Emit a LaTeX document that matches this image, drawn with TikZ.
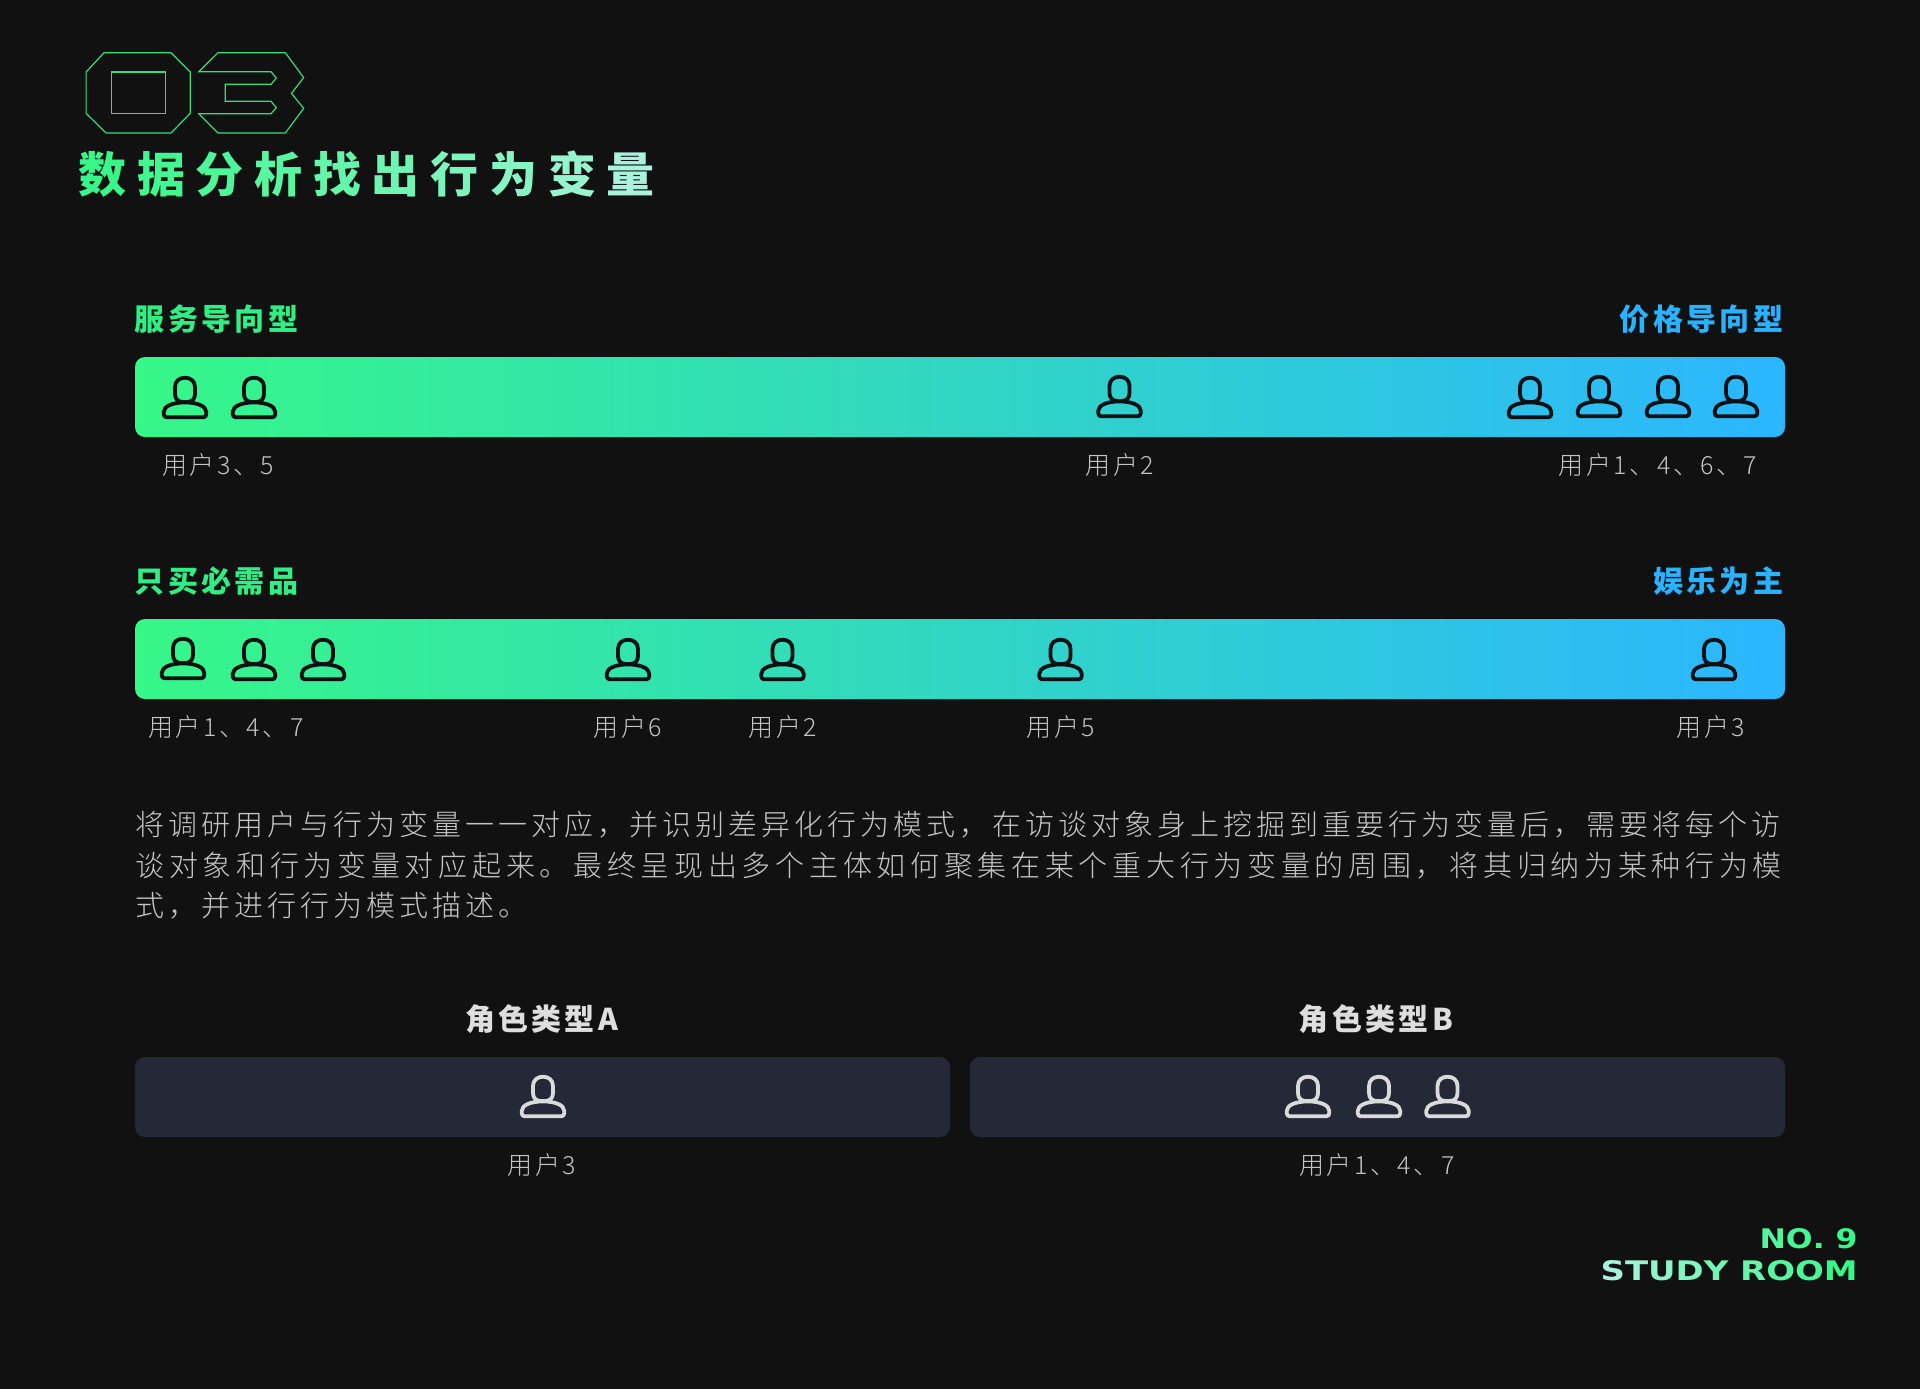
\documentclass[tikz,border=0pt]{standalone}
\usepackage{fontspec}
\usepackage{graphicx}
\usetikzlibrary{calc}
\newfontfamily\ftitle{Noto Sans CJK SC Black}
\newfontfamily\fhead[LetterSpace=11]{Noto Sans CJK SC Black}
\newfontfamily\fbodyA[LetterSpace=13.7]{Noto Sans CJK SC Light}
\newfontfamily\fbodyB[LetterSpace=16.2]{Noto Sans CJK SC Light}
\newfontfamily\fsmall[LetterSpace=10]{Noto Sans CJK SC Light}
\newfontfamily\fbrand{DejaVu Sans Bold}
\definecolor{bgc}{HTML}{111111}
\definecolor{gL}{HTML}{36F788}
\definecolor{gR}{HTML}{2BB6FF}
\definecolor{tgB}{HTML}{A9F3DC}
\definecolor{boxc}{HTML}{252836}
\definecolor{icDark}{HTML}{0E1114}
\definecolor{icLite}{HTML}{DADADA}
\definecolor{smallc}{HTML}{C4C4C4}
\definecolor{bodyc}{HTML}{C4C4C4}
\definecolor{headc}{HTML}{DEDEDE}
\definecolor{headg}{HTML}{2FEE84}
\definecolor{headb}{HTML}{29B3FF}
\definecolor{outc}{HTML}{2FDF7C}
\newcommand{\tc}[2]{\textcolor{gL!#1!tgB}{#2}\kern5.35pt}
\tikzset{
  barbox/.style={inner sep=0pt,minimum width=825pt,minimum height=40pt,rounded corners=5pt,left color=gL,right color=gR},
  rolebox/.style={inner sep=0pt,minimum width=407.5pt,minimum height=40pt,rounded corners=5pt,fill=boxc},
  headtxt/.style={inner sep=0pt,font=\fontsize{15}{15}\selectfont\fhead},
  smalltxt/.style={inner sep=0pt,anchor=base,text=smallc,font=\fontsize{12.5}{12.5}\selectfont\fsmall},
  bodytxt/.style={inner sep=0pt,anchor=base west,text=bodyc},
  iconline/.style={line width=1.9pt,line join=round},
  outline03/.style={draw=outc,line width=0.6pt,line join=miter},
  usericon/.pic={
    \draw[iconline,pic actions] (-10,11) .. controls (-10,5) and (-5.5,1.7) .. (0,1.7) .. controls (5.5,1.7) and (10,5) .. (10,11) -- (10,18) .. controls (10,23) and (7,26) .. (2,26) -- (-2,26) .. controls (-7,26) and (-10,23) .. (-10,18) -- cycle;
    \draw[iconline,pic actions] (-21.3,36) .. controls (-21.3,30) and (-12,26.4) .. (0,26.4) .. controls (12,26.4) and (21.3,30) .. (21.3,36) -- (21.3,38) .. controls (21.3,40) and (20,41.3) .. (18.3,41.3) -- (-18.3,41.3) .. controls (-20,41.3) and (-21.3,40) .. (-21.3,38) -- cycle;
  }
}
\begin{document}
\begin{tikzpicture}[x=0.5pt,y=-0.5pt]
\useasboundingbox (0,0) rectangle (1920,1388);
\fill[bgc] (-6,-6) rectangle (1926,1394);
% big outlined 03
\begin{scope}[shift={(60,30)},x=0.20408pt,y=-0.16667pt]
\draw[outline03] (108,68)--(272,68)--(319,126)--(319,250)--(272,309)--(113,309)--(64,250)--(64,126)--cycle;
\draw[outline03] (126,126)--(258,126)--(258,250)--(126,250)--cycle;
\draw[outline03] (387,68)--(552,68)--(597,143)--(567,190)--(597,235)--(552,309)--(387,309)--(340,251)--(517,251)--(530,233)--(517,214)--(405,214)--(405,163)--(517,163)--(530,144)--(517,125)--(340,125)--cycle;
\end{scope}
% title
\node (title) [inner sep=0pt,anchor=base west,font=\fontsize{24}{24}\selectfont\ftitle] at (78,192)
 {\tc{100}{数}\tc{90}{据}\tc{80}{分}\tc{70}{析}\tc{60}{找}\tc{50}{出}\tc{40}{行}\tc{30}{为}\tc{15}{变}\tc{0}{量}};
% row 1
\node (h1l) [headtxt,anchor=base west,text=headg] at (134.5,330) {服务导向型};
\node (h1r) [headtxt,anchor=base east,text=headb] at (1783.5,330) {价格导向型};
\node (bar1) [barbox] at (960,397) {};
\foreach \x/\t in {185/376,254/376,1119.5/375,1530/376,1599/375,1668/375,1736/375}
  \pic[draw=icDark] at (\x,\t) {usericon};
\node (l11) [smalltxt] at (218,474) {用户3、5};
\node (l12) [smalltxt] at (1120,474) {用户2};
\node (l13) [smalltxt] at (1658,474) {用户1、4、6、7};
% row 2
\node (h2l) [headtxt,anchor=base west,text=headg] at (134.5,592.7) {只买必需品};
\node (h2r) [headtxt,anchor=base east,text=headb] at (1783.5,592.7) {娱乐为主};
\node (bar2) [barbox] at (960,659) {};
\foreach \x/\t in {183/637,254/638,323/638,628/638,782.5/638,1060.5/638,1714/638}
  \pic[draw=icDark] at (\x,\t) {usericon};
\node (l21) [smalltxt] at (226,736.2) {用户1、4、7};
\node (l22) [smalltxt] at (628,736.2) {用户6};
\node (l23) [smalltxt] at (783,736.2) {用户2};
\node (l24) [smalltxt] at (1061,736.2) {用户5};
\node (l25) [smalltxt] at (1711,736.2) {用户3};
% paragraph
\node (p1) [bodytxt,font=\fontsize{14.5}{14.5}\selectfont\fbodyA] at (135,835.7) {将调研用户与行为变量一一对应，并识别差异化行为模式，在访谈对象身上挖掘到重要行为变量后，需要将每个访};
\node (p2) [bodytxt,font=\fontsize{14.5}{14.5}\selectfont\fbodyB] at (135,876) {谈对象和行为变量对应起来。最终呈现出多个主体如何聚集在某个重大行为变量的周围，将其归纳为某种行为模};
\node (p3) [bodytxt,font=\fontsize{14.5}{14.5}\selectfont\fbodyA] at (135,916.3) {式，并进行行为模式描述。};
% roles
\node (ra) [headtxt,anchor=base,text=headc] at (541.5,1030) {角色类型A};
\node (rb) [headtxt,anchor=base,text=headc] at (1376,1030) {角色类型B};
\node (boxa) [rolebox] at (542.5,1097) {};
\node (boxb) [rolebox] at (1377.5,1097) {};
\foreach \x in {543,1308,1379,1447.5}
  \pic[draw=icLite] at (\x,1075) {usericon};
\node (l31) [smalltxt] at (542,1174) {用户3};
\node (l32) [smalltxt] at (1377,1174) {用户1、4、7};
% brand
\node (b1) [inner sep=0pt,anchor=base east] at (1858,1248) {\resizebox{49pt}{10pt}{\fbrand\textcolor{gL!75!tgB}{N}\textcolor{gL!85!tgB}{O}\textcolor{gL!90!tgB}{.}\ \textcolor{gL}{9}}};
\node (b2) [inner sep=0pt,anchor=base east] at (1858,1280) {\resizebox{128.5pt}{10pt}{\fbrand\textcolor{gL!0!tgB}{S}\textcolor{gL!12!tgB}{T}\textcolor{gL!24!tgB}{U}\textcolor{gL!36!tgB}{D}\textcolor{gL!46!tgB}{Y}\ \textcolor{gL!58!tgB}{R}\textcolor{gL!70!tgB}{O}\textcolor{gL!82!tgB}{O}\textcolor{gL!100!tgB}{M}}};
\end{tikzpicture}
\end{document}
